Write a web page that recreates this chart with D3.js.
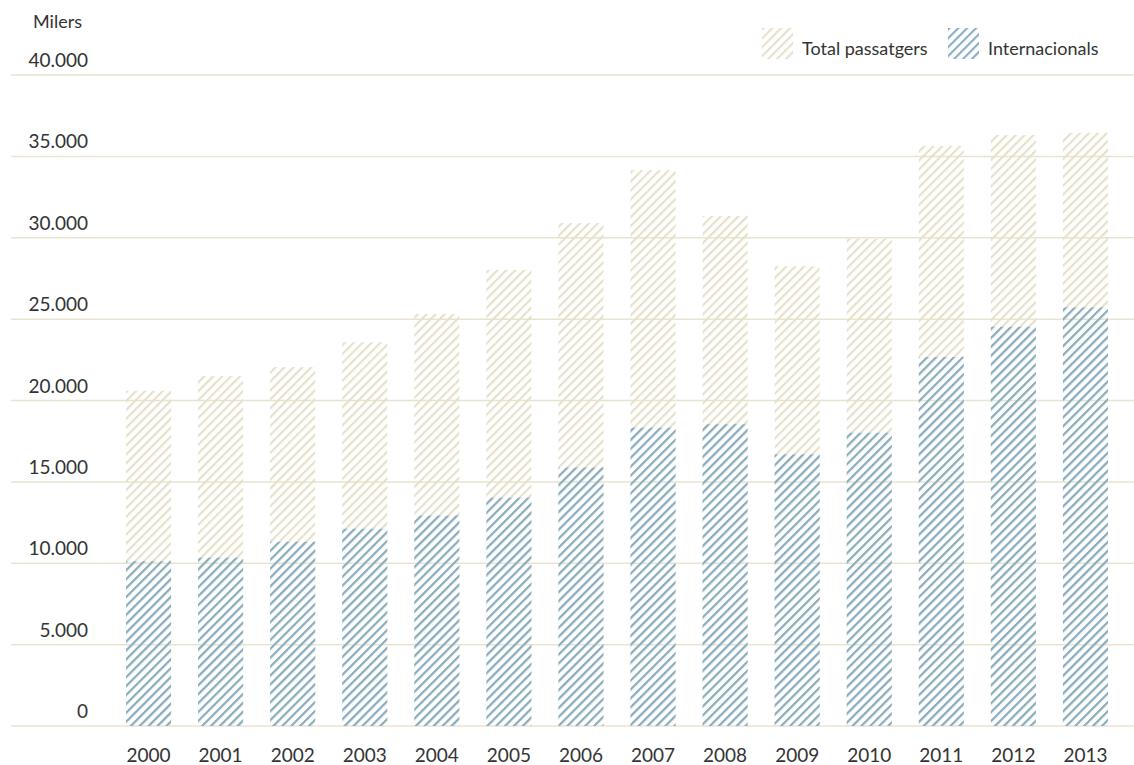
<!DOCTYPE html>
<html>
<head>
<meta charset="utf-8">
<script src="https://cdn.jsdelivr.net/npm/d3@7"></script>
<style>
  body { margin: 0; background: #fff; }
  text { font-family: Lato, "Open Sans", sans-serif; fill: #333; }
</style>
</head>
<body>
<script>
// data (thousands of passengers)
var years = ["2000", "2001", "2002", "2003", "2004", "2005", "2006",
             "2007", "2008", "2009", "2010", "2011", "2012", "2013"];
var totalPassengers = [20600, 21500, 22050, 23580, 25310, 28020, 30900,
                       34160, 31340, 28250, 29930, 35640, 36310, 36450];
var international = [10130, 10340, 11320, 12120, 12930, 14030, 15880,
                     18330, 18540, 16690, 18020, 22670, 24530, 25720];
var yTicks = [0, 5000, 10000, 15000, 20000, 25000, 30000, 35000, 40000];
var legendLabels = ["Total passatgers", "Internacionals"];

// global properties
var p = {
    width: 1134,
    height: 765,
    top: 75,
    bottom: 726,
    gridLeft: 11,
    gridRight: 1134,
    totalColor: "#e6e0c9",
    intlColor: "#86adc3",
    gridColor: "#e9e4d1"
};

var svg = d3.select("body").append("svg")
    .attr("width", p.width).attr("height", p.height);

// stripe patterns
var defs = svg.append("defs");
function stripes(id, color) {
    var pat = defs.append("pattern")
        .attr("id", id)
        .attr("patternUnits", "userSpaceOnUse")
        .attr("width", 6.3).attr("height", 6.3)
        .attr("patternTransform", "rotate(45)");
    pat.append("rect").attr("x", 0).attr("y", 0)
        .attr("width", 2.1).attr("height", 6.3)
        .attr("fill", color);
}
stripes("stripeTotal", p.totalColor);
stripes("stripeIntl", p.intlColor);

var locale = d3.formatLocale({ decimal: ",", thousands: ".", grouping: [3], currency: ["", "€"] });
var fmt = locale.format(",d");

var x = d3.scaleBand().domain(years).range([99, 1135]).paddingInner(0.375).paddingOuter(0.375);
var y = d3.scaleLinear().domain([0, 40000]).range([p.bottom, p.top]);

// gridlines
svg.append("g").selectAll("line").data(yTicks).join("line")
    .attr("x1", p.gridLeft).attr("x2", p.gridRight)
    .attr("y1", function(d) { return y(d); })
    .attr("y2", function(d) { return y(d); })
    .attr("stroke", p.gridColor).attr("stroke-width", 1.5);

// y labels sit above their gridline
svg.append("g").selectAll("text").data(yTicks).join("text")
    .attr("x", 88)
    .attr("y", function(d) { return y(d) - 8; })
    .attr("text-anchor", "end")
    .style("font-size", "19px")
    .text(function(d) { return fmt(d); });

svg.append("text").attr("x", 33).attr("y", 28)
    .style("font-size", "18px").text("Milers");

// bars: total behind, international on top
svg.append("g").selectAll("rect").data(years).join("rect")
    .attr("x", function(d) { return x(d); })
    .attr("width", x.bandwidth())
    .attr("y", function(d, i) { return y(totalPassengers[i]); })
    .attr("height", function(d, i) { return y(0) - y(totalPassengers[i]); })
    .attr("fill", "url(#stripeTotal)");

svg.append("g").selectAll("rect").data(years).join("rect")
    .attr("x", function(d) { return x(d); })
    .attr("width", x.bandwidth())
    .attr("y", function(d, i) { return y(international[i]); })
    .attr("height", function(d, i) { return y(0) - y(international[i]); })
    .attr("fill", "url(#stripeIntl)");

// x labels
svg.append("g").selectAll("text").data(years).join("text")
    .attr("x", function(d) { return x(d) + x.bandwidth() / 2; })
    .attr("y", 762)
    .attr("text-anchor", "middle")
    .style("font-size", "19px")
    .text(function(d) { return d; });

// legend
var legendX = [762, 948];
var legendFill = ["url(#stripeTotal)", "url(#stripeIntl)"];
var lg = svg.append("g").selectAll("g").data(legendLabels).join("g")
    .attr("transform", function(d, i) { return "translate(" + legendX[i] + ",28)"; });
lg.append("rect").attr("width", 31).attr("height", 31)
    .attr("fill", function(d, i) { return legendFill[i]; });
lg.append("text").attr("x", 40).attr("y", 27)
    .style("font-size", "18px")
    .text(function(d) { return d; });
</script>
</body>
</html>
